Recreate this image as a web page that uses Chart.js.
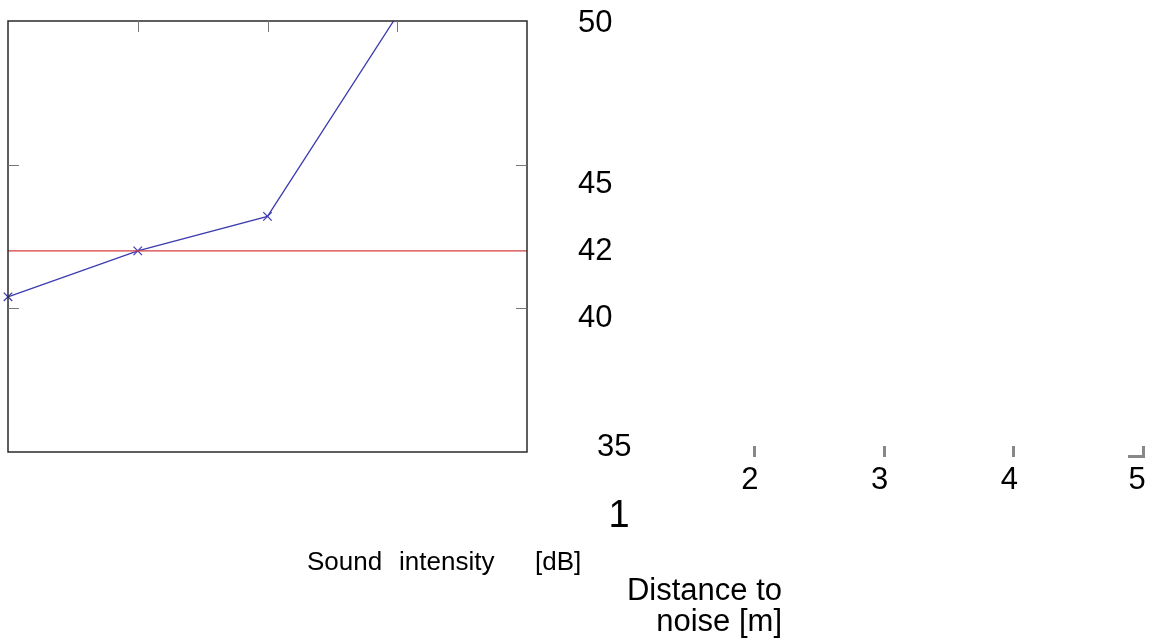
<!DOCTYPE html>
<html>
<head>
<meta charset="utf-8">
<script src="https://cdn.jsdelivr.net/npm/chart.js@4/dist/chart.umd.min.js"></script>
<style>
  html, body { margin: 0; padding: 0; background: #ffffff; }
  #wrap { width: 1151px; height: 641px; position: relative; }
</style>
</head>
<body>
<div id="wrap"><canvas id="c" width="1151" height="641"></canvas></div>
<script>
// Measured sound intensity against distance to the noise source
const distances = [1, 2, 3, 4];
const intensity = [40.4, 42.0, 43.2, 50.2];
const limitLevel = 42;

// Tick values and their printed labels
const xTickValues = [1, 2, 3, 4, 5];
const xTickLabels = ['1', '2', '3', '4', '5'];
const yTickValues = [50, 45, 42, 40, 35];
const yTickLabels = ['50', '45', '42', '40', '35'];

// Axis titles
const yTitleWords = ['Sound', 'intensity', '[dB]'];
const xTitleLines = ['Distance to', 'noise [m]'];

// Layout of the label column and the axis titles
const yLabelLayout = [
  { left: 578, base: 32 },
  { left: 578, base: 193 },
  { left: 578, base: 260 },
  { left: 578, base: 327 },
  { left: 597, base: 456 }
];
const xLabelShift = 612;      // labels sit to the right of the plot box
const xLabelBase = 489;
const firstLabelBase = 527;
const xMarkShift = 616;
const yTitleLayout = [307, 399, 535];
const yTitleBase = 570;
const xTitleRight = 782;
const xTitleBases = [600, 631];

const FONT = '"Liberation Sans", Arial, Helvetica, sans-serif';

const framePlugin = {
  id: 'frame',
  afterDraw(chart) {
    const { ctx, chartArea: a, scales } = chart;
    const xs = scales.x, ys = scales.y;
    ctx.save();

    // plot box
    ctx.strokeStyle = '#2a2a2a';
    ctx.lineWidth = 1.5;
    ctx.strokeRect(a.left, a.top, a.right - a.left, a.bottom - a.top);

    // inner tick marks
    ctx.strokeStyle = '#777777';
    ctx.lineWidth = 1;
    ctx.beginPath();
    [2, 3, 4].forEach(v => {
      const px = Math.round(xs.getPixelForValue(v)) + 0.5;
      ctx.moveTo(px, a.top);
      ctx.lineTo(px, a.top + 11);
    });
    [45, 40].forEach(v => {
      const py = Math.round(ys.getPixelForValue(v)) + 0.5;
      ctx.moveTo(a.left, py);
      ctx.lineTo(a.left + 11, py);
      ctx.moveTo(a.right, py);
      ctx.lineTo(a.right - 11, py);
    });
    ctx.stroke();

    // tick labels for intensity
    ctx.fillStyle = '#000000';
    ctx.textBaseline = 'alphabetic';
    ctx.textAlign = 'left';
    ctx.font = '31px ' + FONT;
    yTickLabels.forEach((t, i) => {
      ctx.fillText(t, yLabelLayout[i].left, yLabelLayout[i].base);
    });

    // tick labels and marks for distance
    ctx.textAlign = 'center';
    xTickValues.forEach((v, i) => {
      const px = xs.getPixelForValue(v);
      if (i === 0) {
        ctx.font = '38px ' + FONT;
        ctx.fillText(xTickLabels[i], px + xLabelShift - 1, firstLabelBase);
      } else {
        ctx.font = '31px ' + FONT;
        ctx.fillText(xTickLabels[i], px + xLabelShift - (i === 4 ? 2 : 0), xLabelBase);
      }
    });
    ctx.fillStyle = '#888888';
    xTickValues.slice(1).forEach((v, i, arr) => {
      const px = Math.round(xs.getPixelForValue(v) + xMarkShift);
      ctx.fillRect(px - 1, 446, 3, 11);
      if (i === arr.length - 1) {
        ctx.fillRect(px - 15, 455, 17, 3);
      }
    });

    // axis titles
    ctx.fillStyle = '#000000';
    ctx.textAlign = 'left';
    ctx.font = '26px ' + FONT;
    yTitleWords.forEach((w, i) => ctx.fillText(w, yTitleLayout[i], yTitleBase));
    ctx.textAlign = 'right';
    ctx.font = '31px ' + FONT;
    xTitleLines.forEach((l, i) => ctx.fillText(l, xTitleRight, xTitleBases[i]));

    ctx.restore();
  }
};

new Chart(document.getElementById('c'), {
  type: 'line',
  data: {
    datasets: [
      {
        data: [{ x: 1, y: limitLevel }, { x: 5, y: limitLevel }],
        borderColor: '#d43c3c',
        borderWidth: 1.3,
        pointRadius: 0,
        fill: false
      },
      {
        data: distances.map((d, i) => ({ x: d, y: intensity[i] })),
        borderColor: '#3c3cb0',
        borderWidth: 1.3,
        pointStyle: 'crossRot',
        pointRadius: 6,
        pointBorderColor: '#3c3cb0',
        pointBorderWidth: 1.3,
        tension: 0,
        fill: false,
        // clipped at the top of the box, free at the left edge
        clip: { left: false, top: 0, right: false, bottom: false }
      }
    ]
  },
  options: {
    responsive: false,
    devicePixelRatio: 1,
    animation: false,
    layout: { padding: { left: 8, top: 21, right: 624, bottom: 189 } },
    plugins: { legend: { display: false }, tooltip: { enabled: false } },
    scales: {
      x: { type: 'linear', min: 1, max: 5, display: false },
      y: { type: 'linear', min: 35, max: 50, display: false }
    }
  },
  plugins: [framePlugin]
});
</script>
</body>
</html>
